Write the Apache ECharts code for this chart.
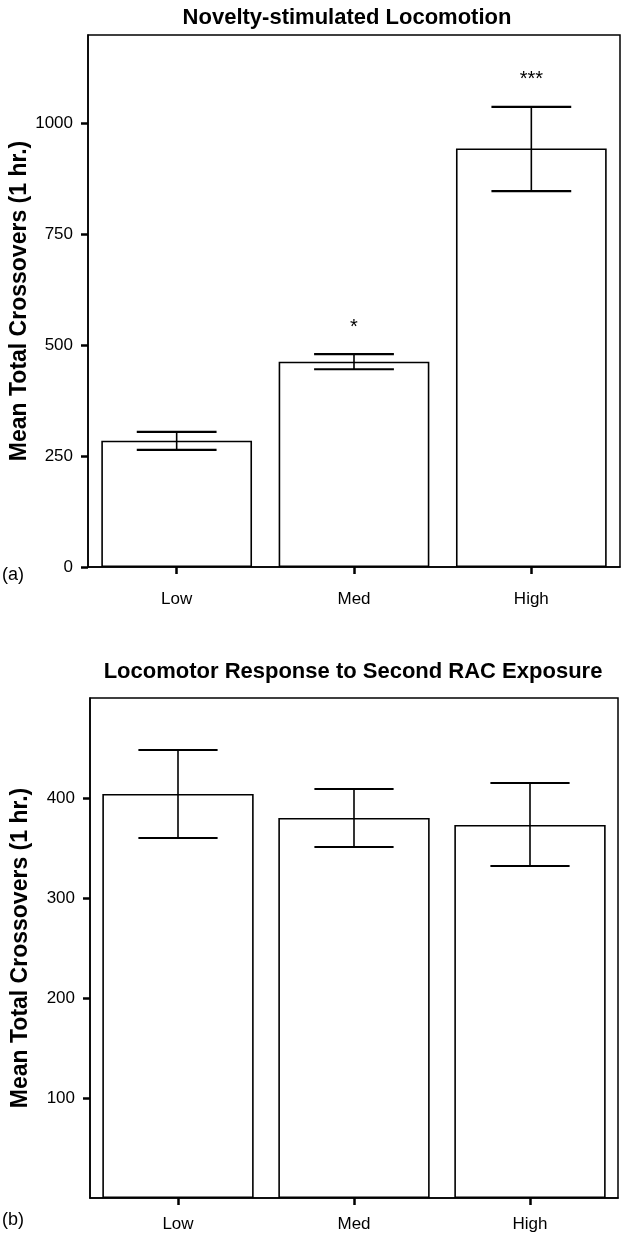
<!DOCTYPE html>
<html>
<head>
<meta charset="utf-8">
<script src="https://cdn.jsdelivr.net/npm/echarts@6/dist/echarts.min.js"></script>
<style>
html,body{margin:0;padding:0;background:#fff;}
#c{width:630px;height:1235px;}
</style>
</head>
<body>
<div id="c"></div>
<script>
// ---- data ----
const categories = ['Low', 'Med', 'High'];

const titleA = 'Novelty-stimulated Locomotion';
const meanA = [285, 463, 944];
const lowerA = [264, 446, 848];
const upperA = [305, 480, 1038];
const sigA = ['', '*', '***'];
const ticksA = [0, 250, 500, 750, 1000];

const titleB = 'Locomotor Response to Second RAC Exposure';
const meanB = [404, 380, 373];
const lowerB = [360, 351, 332];
const upperB = [448, 409, 415];
const sigB = ['', '', ''];
const ticksB = [100, 200, 300, 400];

const yName = 'Mean Total Crossovers (1 hr.)';

// ---- chart ----
const FONT = '"Liberation Sans", Arial, Helvetica, sans-serif';
const chart = echarts.init(document.getElementById('c'), null, {renderer: 'canvas'});

function errorSeries(idx, lower, upper, sig) {
  return {
    type: 'custom',
    xAxisIndex: idx, yAxisIndex: idx,
    z: 5,
    data: categories.map((c, i) => [i, lower[i], upper[i]]),
    renderItem: function (params, api) {
      const x = api.value(0);
      const pLo = api.coord([x, api.value(1)]);
      const pHi = api.coord([x, api.value(2)]);
      const half = api.size([1, 0])[0] * 0.225;
      const st = {stroke: '#000', lineWidth: 1.6};
      const children = [
        {type: 'line', shape: {x1: pHi[0], y1: pHi[1], x2: pLo[0], y2: pLo[1]}, style: st},
        {type: 'line', shape: {x1: pHi[0] - half, y1: pHi[1], x2: pHi[0] + half, y2: pHi[1]}, style: {stroke: '#000', lineWidth: 2.2}},
        {type: 'line', shape: {x1: pLo[0] - half, y1: pLo[1], x2: pLo[0] + half, y2: pLo[1]}, style: {stroke: '#000', lineWidth: 2.2}}
      ];
      const s = sig[params.dataIndex];
      if (s) {
        children.push({type: 'text', style: {
          text: s, x: pHi[0], y: pHi[1] - 27, align: 'center', verticalAlign: 'middle',
          font: '20px ' + FONT, fill: '#000'
        }});
      }
      return {type: 'group', children: children};
    }
  };
}

function xAxisCfg(idx, margin) {
  return {
    type: 'category', gridIndex: idx, data: categories,
    axisLine: {show: true, lineStyle: {color: '#000', width: 1.5}},
    axisTick: {show: true, alignWithLabel: true, length: 7, lineStyle: {color: '#000', width: 2.5}},
    axisLabel: {color: '#000', fontSize: 17, fontFamily: FONT, margin: margin},
    splitLine: {show: false}
  };
}

function yAxisCfg(idx, max, interval, ticks, gap) {
  return {
    type: 'value', gridIndex: idx, min: 0, max: max, interval: interval,
    name: yName, nameLocation: 'middle', nameGap: gap, nameMoveOverlap: false,
    nameTextStyle: {color: '#000', fontSize: 23, fontWeight: 'bold', fontFamily: FONT},
    axisLine: {show: true, lineStyle: {color: '#000', width: 1.5}},
    axisTick: {show: true, length: 7, customValues: ticks, lineStyle: {color: '#000', width: 2.5}},
    axisLabel: {color: '#000', fontSize: 17, fontFamily: FONT, margin: 15, customValues: ticks,
      formatter: function (v) { return String(v); }},
    splitLine: {show: false}
  };
}

chart.setOption({
  backgroundColor: '#fff',
  animation: false,
  title: [
    {text: titleA, left: 342, top: 2, textAlign: 'center',
     textStyle: {fontSize: 22, fontWeight: 'bold', color: '#000', fontFamily: FONT}},
    {text: titleB, left: 348, top: 656, textAlign: 'center',
     textStyle: {fontSize: 22, fontWeight: 'bold', color: '#000', fontFamily: FONT}}
  ],
  grid: [
    {left: 88, top: 35, width: 532, height: 532, show: true, borderColor: '#000', borderWidth: 1.5,
     backgroundColor: 'transparent', containLabel: false, outerBoundsMode: 'none'},
    {left: 90, top: 698, width: 528, height: 500, show: true, borderColor: '#000', borderWidth: 1.5,
     backgroundColor: 'transparent', containLabel: false, outerBoundsMode: 'none'}
  ],
  xAxis: [xAxisCfg(0, 24), xAxisCfg(1, 18)],
  yAxis: [yAxisCfg(0, 1200, 50, ticksA, 57), yAxisCfg(1, 500, 100, ticksB, 58)],
  graphic: [
    {type: 'text', left: 2, top: 566, style: {text: '(a)', font: '18px ' + FONT, fill: '#000'}},
    {type: 'text', left: 2, top: 1211, style: {text: '(b)', font: '18px ' + FONT, fill: '#000'}}
  ],
  series: [
    {type: 'bar', xAxisIndex: 0, yAxisIndex: 0, data: meanA, barCategoryGap: '15%',
     itemStyle: {color: '#fff', borderColor: '#000', borderWidth: 1.6}},
    errorSeries(0, lowerA, upperA, sigA),
    {type: 'bar', xAxisIndex: 1, yAxisIndex: 1, data: meanB, barCategoryGap: '14%',
     itemStyle: {color: '#fff', borderColor: '#000', borderWidth: 1.6}},
    errorSeries(1, lowerB, upperB, sigB)
  ]
});
</script>
</body>
</html>
